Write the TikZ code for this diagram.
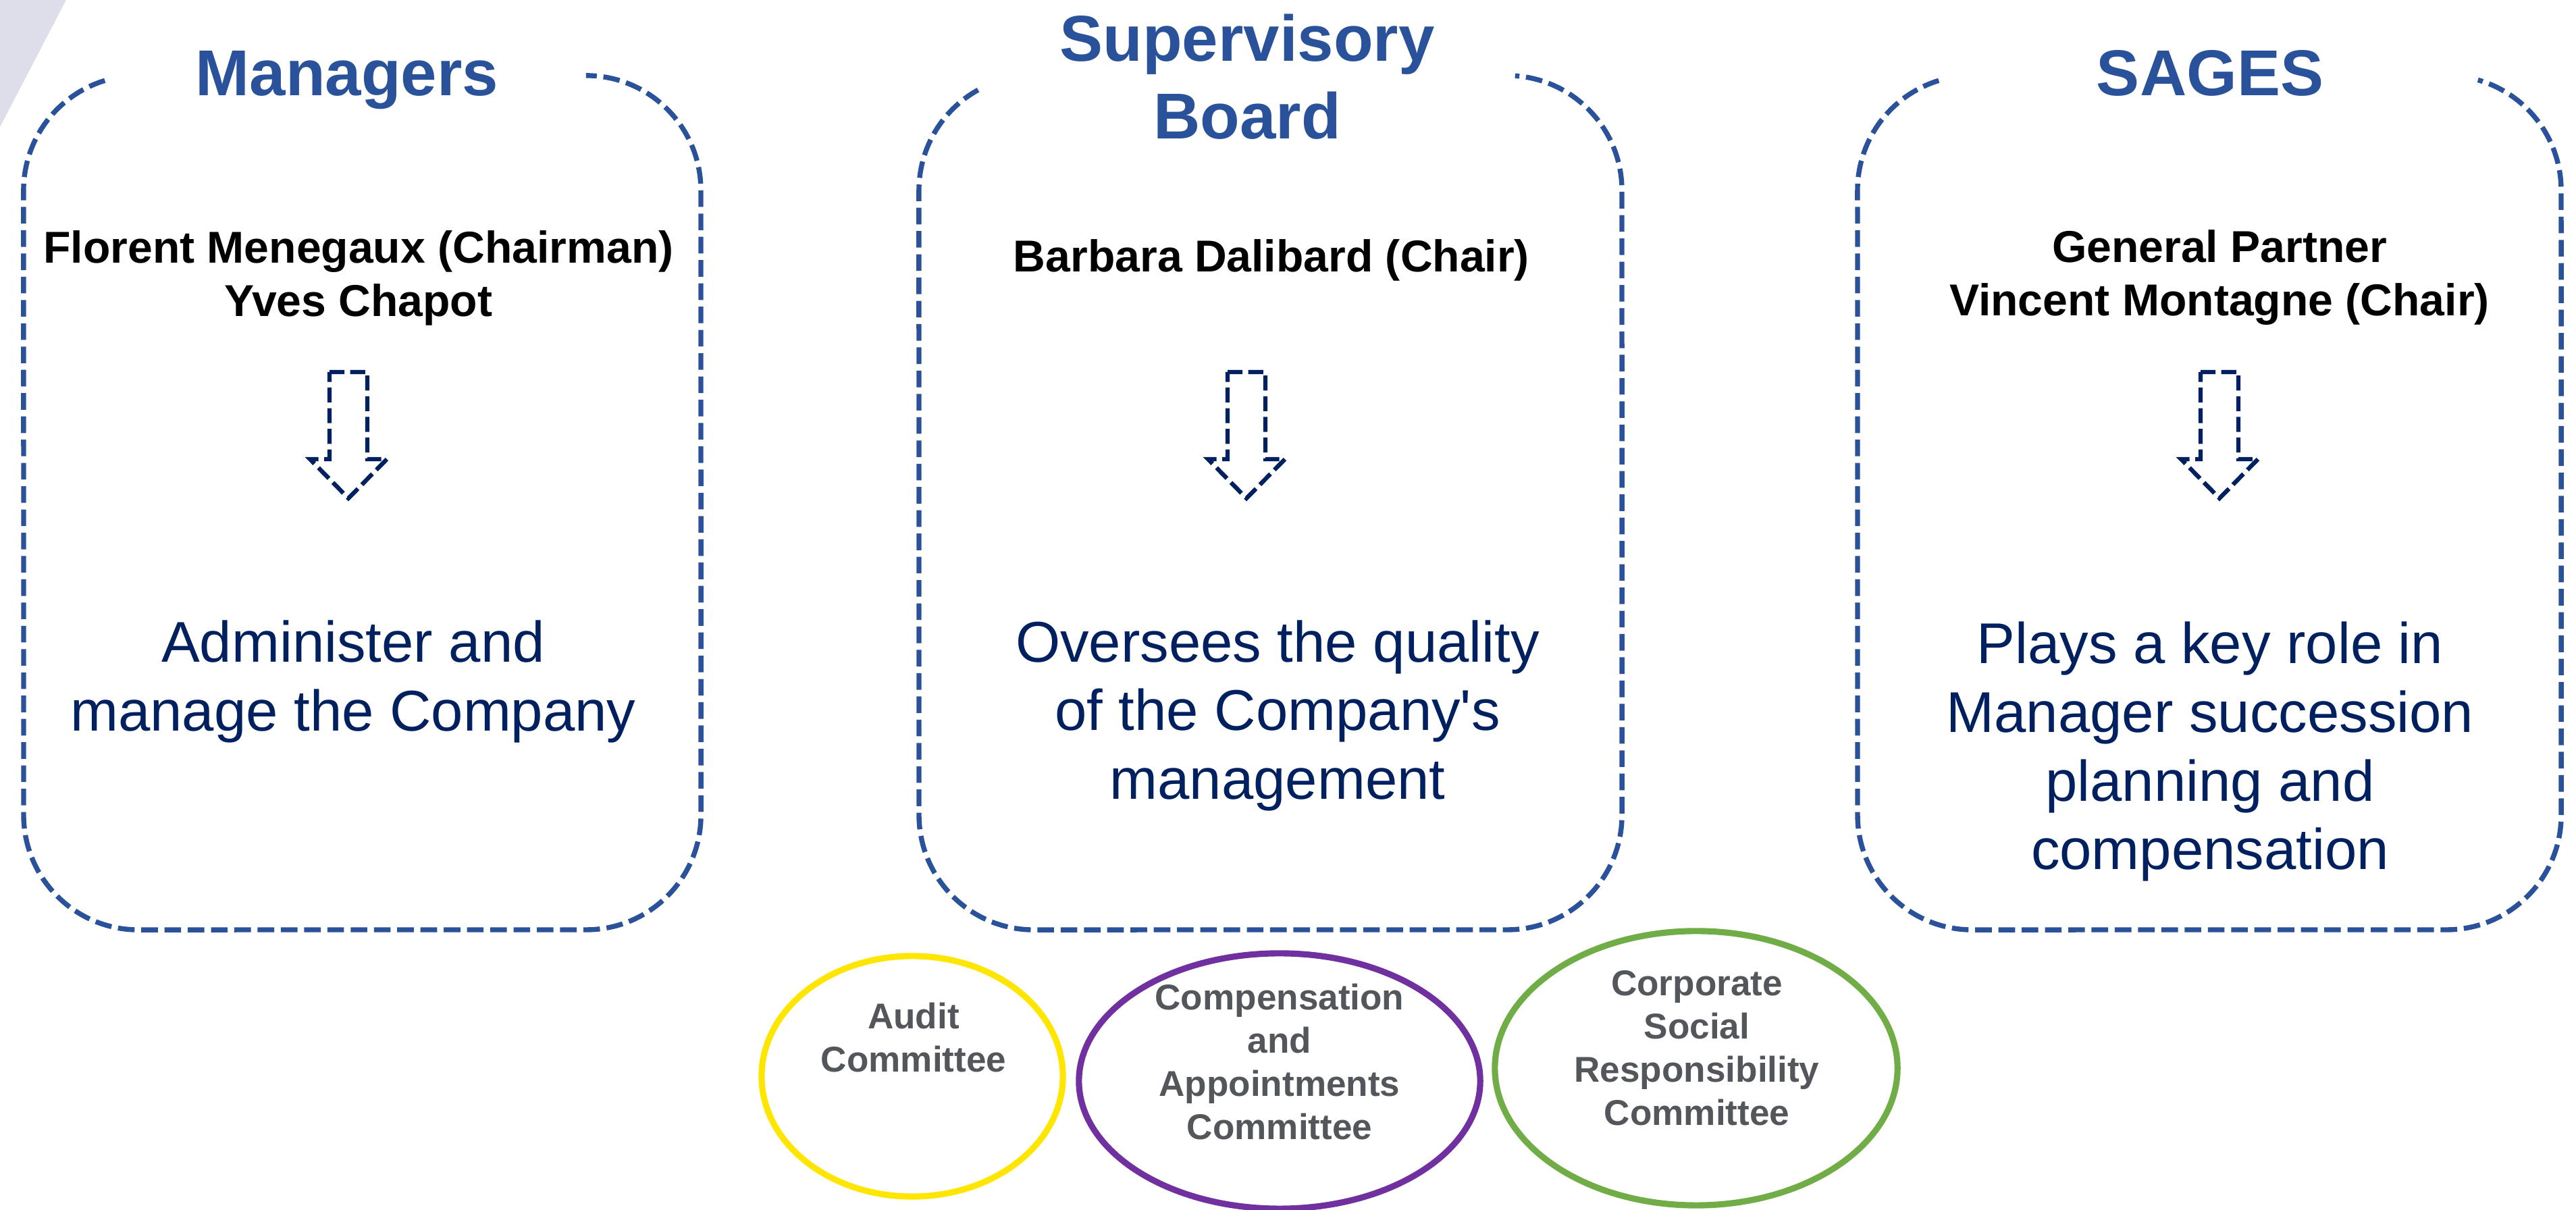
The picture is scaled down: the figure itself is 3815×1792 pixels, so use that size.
\documentclass[tikz,border=0pt]{standalone}
\usepackage{fontspec}
\setmainfont{Liberation Sans}
\usetikzlibrary{shapes.geometric}
\definecolor{govblue}{RGB}{41,82,155}
\definecolor{govnavy}{RGB}{0,32,96}
\definecolor{govgrey}{RGB}{83,86,90}
\definecolor{audityellow}{RGB}{255,230,0}
\definecolor{comppurple}{RGB}{112,48,160}
\definecolor{csrgreen}{RGB}{112,173,71}
\definecolor{cornergrey}{RGB}{221,222,234}

\begin{document}
\begin{tikzpicture}[x=0.01cm,y=0.01cm,
  boxline/.style={govblue,line width=2.1pt,dash pattern=on 7pt off 2.8pt},
  arrowline/.style={govnavy,line width=1.8pt,dash pattern=on 6.3pt off 2.4pt},
  title/.style={govblue,font=\fontsize{27.3}{32.7}\selectfont\bfseries,align=center,anchor=base,inner sep=0pt},
  names/.style={black,font=\fontsize{18.8}{22.6}\selectfont\bfseries,align=center,anchor=base,inner sep=0pt},
  role/.style={govnavy,font=\fontsize{24.2}{29}\selectfont,align=center,anchor=base,inner sep=0pt},
  committee/.style={ellipse,draw,line width=2.6pt,inner sep=0pt},
  comtext/.style={govgrey,font=\fontsize{15.1}{18.2}\selectfont\bfseries,align=center,anchor=base,inner sep=0pt}]

\useasboundingbox (0,0) rectangle (3815,1792);

% Corner shade
\fill[cornergrey] (0,1792) -- (98,1792) -- (0,1604) -- cycle;

% Dashed frames, open at the top for the titles
\foreach \l/\r/\a/\b in {35/1038/107/90, 1361/2402/119/86, 2751/3793/107/74} {
  \draw[boxline] (\l+170,1510) ++(\a:1.7cm) arc[start angle=\a,end angle=180,radius=1.7cm]
    -- (\l,585) arc[start angle=180,end angle=270,radius=1.7cm]
    -- (\r-170,415) arc[start angle=270,end angle=360,radius=1.7cm]
    -- (\r,1510) arc[start angle=0,end angle=\b,radius=1.7cm];
}

% Titles (placed at the last baseline)
\node[title] (mgrtitle) at (514,1650) {Managers};
\node[title] (sbtitle) at (1847,1586) {Supervisory\\Board};
\node[title] (sagestitle) at (3273,1650) {SAGES};

% Names
\node[names] (mgrnames) at (531,1323) {Florent Menegaux (Chairman)\\Yves Chapot};
\node[names] (sbnames) at (1883,1389) {Barbara Dalibard (Chair)};
\node[names] (sagesnames) at (3287,1324) {General Partner\\Vincent Montagne (Chair)};

% Block arrows
\foreach \c in {516,1846,3287} {
  \draw[arrowline] (\c-28,1241) -- (\c+28,1241) -- (\c+28,1112) -- (\c+57,1112)
    -- (\c,1054) -- (\c-57,1112) -- (\c-28,1112) -- cycle;
}

% Roles
\node[role] (mgrrole) at (523,709) {Administer and\\manage the Company};
\node[role] (sbrole) at (1892,608) {Oversees the quality\\of the Company\textquotesingle s\\management};
\node[role] (sagesrole) at (3273,504) {Plays a key role in\\Manager succession\\planning and\\compensation};

% Committees
\node[committee,draw=audityellow,minimum width=4.46cm,minimum height=3.56cm] (audit) at (1351,198) {};
\node[committee,draw=comppurple,minimum width=5.94cm,minimum height=3.78cm] (comp) at (1895,191) {};
\node[committee,draw=csrgreen,minimum width=5.96cm,minimum height=4.06cm] (csr) at (2512,210) {};

\node[comtext] (audittext) at (1353,204) {Audit\\Committee};
\node[comtext] (comptext) at (1895,104) {Compensation\\and\\Appointments\\Committee};
\node[comtext] (csrtext) at (2513,125) {Corporate\\Social\\Responsibility\\Committee};
\end{tikzpicture}
\end{document}
